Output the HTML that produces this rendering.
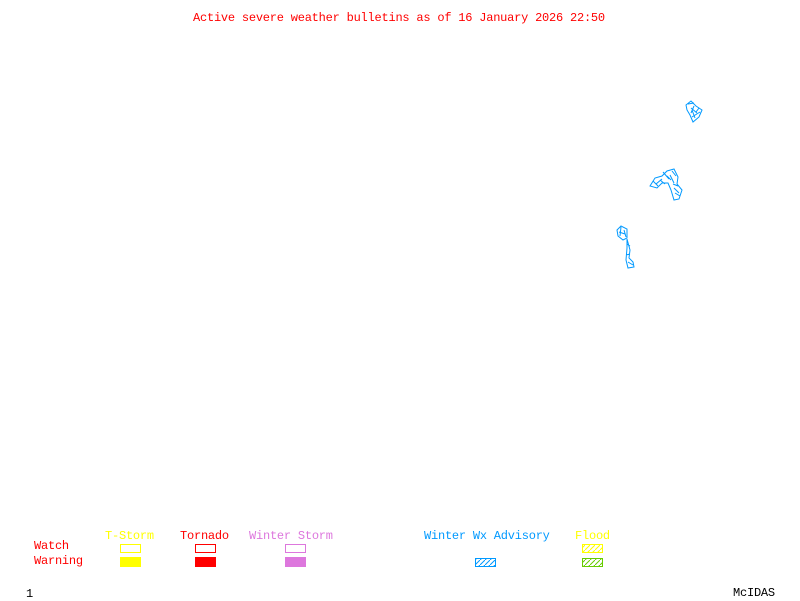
<!DOCTYPE html>
<html><head><meta charset="utf-8"><style>
html,body{margin:0;padding:0;background:#fff;width:800px;height:600px;overflow:hidden}
.t{position:absolute;font-family:"Liberation Mono",monospace;font-size:12px;line-height:12px;white-space:pre;letter-spacing:-0.22px}
svg{position:absolute;left:0;top:0}
</style></head><body>
<svg width="800" height="600">
<defs>
<pattern id="hb" width="5" height="5" patternUnits="userSpaceOnUse"><path d="M0 5L5 0" stroke="#0099ff" stroke-width="1"/></pattern>
<pattern id="hy" width="5" height="5" patternUnits="userSpaceOnUse"><path d="M0 5L5 0" stroke="#ffff00" stroke-width="1"/></pattern>
<pattern id="hg" width="5" height="5" patternUnits="userSpaceOnUse"><path d="M0 5L5 0" stroke="#66cc00" stroke-width="1"/></pattern>
</defs>
<rect x="120.5" y="544.5" width="20" height="8" fill="none" stroke="#ffff00"/>
<rect x="120" y="557" width="21" height="10" fill="#ffff00"/>
<rect x="195.5" y="544.5" width="20" height="8" fill="none" stroke="#ff0000"/>
<rect x="195" y="557" width="21" height="10" fill="#ff0000"/>
<rect x="285.5" y="544.5" width="20" height="8" fill="none" stroke="#dd77dd"/>
<rect x="285" y="557" width="21" height="10" fill="#dd77dd"/>
<rect x="475.5" y="558.5" width="20" height="8" fill="url(#hb)" stroke="#0099ff"/>
<rect x="582.5" y="544.5" width="20" height="8" fill="url(#hy)" stroke="#ffff00"/>
<rect x="582.5" y="558.5" width="20" height="8" fill="url(#hg)" stroke="#66cc00"/>
<g fill="none" stroke="#0099ff" stroke-width="1">
<path d="M686 105L691 101L696 106L702 110L699 117L693 122L690 115L687 110Z M691 108L697 113 M694 106L691 113 M696 112L699 108 M688 104L694 103 M692 117L700 112 M695 118L692 110"/>
<path d="M650 186L655 178L662 176L667 171L674 169L678 177L677 184L682 190L679 199L674 200L671 190L668 183L662 183L657 188Z M660 180L665 184 M670 175L674 183 M674 188L679 193 M667 176L671 180 M653 181L658 186 M663 172L669 179 M672 171L676 176 M673 184L678 186 M675 193L680 196 M656 184L662 179"/>
<path d="M617 230L621 226L627 229L627 238L623 240L618 236Z M627 239L630 250L629 258L633 262L634 267L628 268L626 260L627 248Z M619 232L625 234 M621 227L620 236 M624 230L626 237 M627 244L630 246 M626 255L630 254 M628 262L633 265"/>
</g>
</svg>
<div class="t" style="left:193px;top:12px;color:#ff0000">Active severe weather bulletins as of 16 January 2026 22:50</div>
<div class="t" style="left:105px;top:530px;color:#ffff00">T-Storm</div>
<div class="t" style="left:180px;top:530px;color:#ff0000">Tornado</div>
<div class="t" style="left:249px;top:530px;color:#dd77dd">Winter Storm</div>
<div class="t" style="left:424px;top:530px;color:#0099ff">Winter Wx Advisory</div>
<div class="t" style="left:575px;top:530px;color:#ffff00">Flood</div>
<div class="t" style="left:34px;top:540px;color:#ff0000">Watch</div>
<div class="t" style="left:34px;top:555px;color:#ff0000">Warning</div>
<div class="t" style="left:26px;top:588px;color:#000">1</div>
<div class="t" style="left:733px;top:587px;color:#000">McIDAS</div>
</body></html>
